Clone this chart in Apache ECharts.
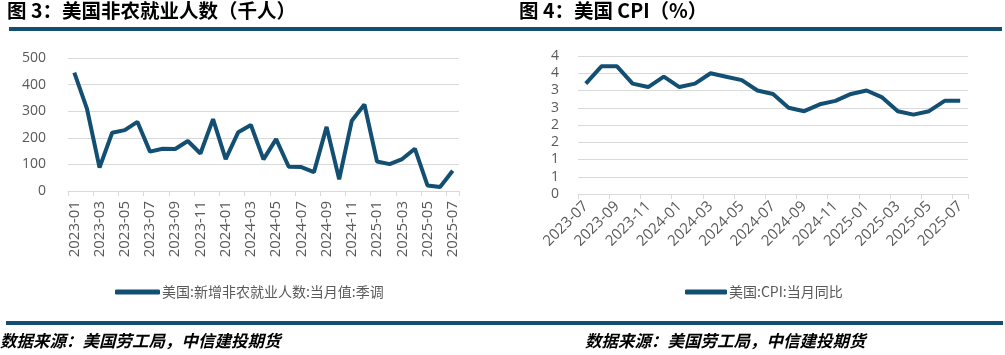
<!DOCTYPE html>
<html>
<head>
<meta charset="utf-8">
<script src="https://cdn.jsdelivr.net/npm/echarts@6/dist/echarts.min.js"></script>
<style>
html,body{margin:0;padding:0;background:#fff;}
#c{width:1005px;height:355px;}
</style>
</head>
<body>
<div id="c"></div>
<script>
const nfpCategories = ['2023-01','2023-02','2023-03','2023-04','2023-05','2023-06','2023-07','2023-08','2023-09','2023-10','2023-11','2023-12',
  '2024-01','2024-02','2024-03','2024-04','2024-05','2024-06','2024-07','2024-08','2024-09','2024-10','2024-11','2024-12',
  '2025-01','2025-02','2025-03','2025-04','2025-05','2025-06','2025-07'];
const nfpValues = [445, 310, 88, 219, 229, 260, 148, 159, 158, 188, 141, 270, 120, 221, 248, 119, 195, 91, 90, 71, 241, 44, 264, 325, 111, 101, 120, 159, 21, 15, 76];
const nfpName = '美国:新增非农就业人数:当月值:季调';

const cpiCategories = ['2023-07','2023-08','2023-09','2023-10','2023-11','2023-12',
  '2024-01','2024-02','2024-03','2024-04','2024-05','2024-06','2024-07','2024-08','2024-09','2024-10','2024-11','2024-12',
  '2025-01','2025-02','2025-03','2025-04','2025-05','2025-06','2025-07'];
const cpiValues = [3.2, 3.7, 3.7, 3.2, 3.1, 3.4, 3.1, 3.2, 3.5, 3.4, 3.3, 3.0, 2.9, 2.5, 2.4, 2.6, 2.7, 2.9, 3.0, 2.8, 2.4, 2.3, 2.4, 2.7, 2.7];
const cpiName = '美国:CPI:当月同比';

const title3 = '图 3：美国非农就业人数（千人）';
const title4 = '图 4：美国 CPI（%）';
const source = '数据来源：美国劳工局，中信建投期货';

const BLUE = '#134f72';
const GRAY = '#595959';
const LINEGRAY = '#d9d9d9';
const FONT = '"Open Sans", "Noto Sans CJK SC", sans-serif';
const CJK = '"Noto Sans CJK SC", sans-serif';

const chart = echarts.init(document.getElementById('c'), null, {renderer: 'canvas'});

function xAxis(gridIndex, cats, rotate) {
  return {
    type: 'category', gridIndex: gridIndex, data: cats, boundaryGap: true,
    axisLine: {lineStyle: {color: LINEGRAY, width: 1}},
    axisTick: {show: true, interval: 1, length: 5, lineStyle: {color: LINEGRAY}},
    axisLabel: {interval: 1, rotate: rotate, color: GRAY, fontSize: 15, fontFamily: FONT, margin: 10},
    splitLine: {show: false}
  };
}

chart.setOption({
  animation: false,
  textStyle: {fontFamily: FONT},
  grid: [
    {left: 68, right: 546, top: 58, bottom: 164, containLabel: false},
    {left: 578, right: 37, top: 56, bottom: 161, containLabel: false}
  ],
  xAxis: [xAxis(0, nfpCategories, 90), xAxis(1, cpiCategories, 45)],
  yAxis: [
    {type: 'value', gridIndex: 0, min: 0, max: 500, interval: 100,
     axisLine: {show: false}, axisTick: {show: false},
     axisLabel: {color: GRAY, fontSize: 14, fontFamily: FONT, margin: 22},
     splitLine: {lineStyle: {color: LINEGRAY, width: 1}}},
    {type: 'value', gridIndex: 1, min: 0, max: 4, interval: 0.5,
     axisLine: {show: false}, axisTick: {show: false},
     axisLabel: {color: GRAY, fontSize: 14, fontFamily: FONT, margin: 19,
       formatter: function (v) { return String(Math.round(v)); }},
     splitLine: {lineStyle: {color: LINEGRAY, width: 1}}}
  ],
  legend: [
    {data: [nfpName], left: 110, top: 280, itemWidth: 45, itemHeight: 5, itemGap: 10,
     icon: 'roundRect',
     textStyle: {color: GRAY, fontSize: 14, fontFamily: CJK, padding: [0, 0, 0, -3]}},
    {data: [cpiName], left: 680, top: 280, itemWidth: 42, itemHeight: 5, itemGap: 10,
     icon: 'roundRect',
     textStyle: {color: GRAY, fontSize: 14, fontFamily: CJK, padding: [0, 0, 0, -3]}}
  ],
  series: [
    {name: nfpName, type: 'line', xAxisIndex: 0, yAxisIndex: 0, data: nfpValues,
     showSymbol: false, symbol: 'none', lineStyle: {color: BLUE, width: 4}, itemStyle: {color: BLUE}},
    {name: cpiName, type: 'line', xAxisIndex: 1, yAxisIndex: 1, data: cpiValues,
     showSymbol: false, symbol: 'none', lineStyle: {color: BLUE, width: 4}, itemStyle: {color: BLUE}}
  ],
  graphic: [
    {type: 'text', left: 7, top: 1, style: {text: title3, fill: '#000', font: 'bold 19.5px ' + CJK}},
    {type: 'text', left: 519, top: 1, style: {text: title4, fill: '#000', font: 'bold 19.5px ' + CJK}},
    {type: 'rect', shape: {x: 9, y: 27, width: 993, height: 4}, style: {fill: BLUE}},
    {type: 'rect', shape: {x: 6, y: 321, width: 997, height: 4}, style: {fill: BLUE}},
    {type: 'text', left: 0, top: 332, style: {text: source, fill: '#000', font: 'italic bold 16.5px ' + CJK}},
    {type: 'text', left: 585, top: 332, style: {text: source, fill: '#000', font: 'italic bold 16.5px ' + CJK}}
  ]
});
</script>
</body>
</html>
